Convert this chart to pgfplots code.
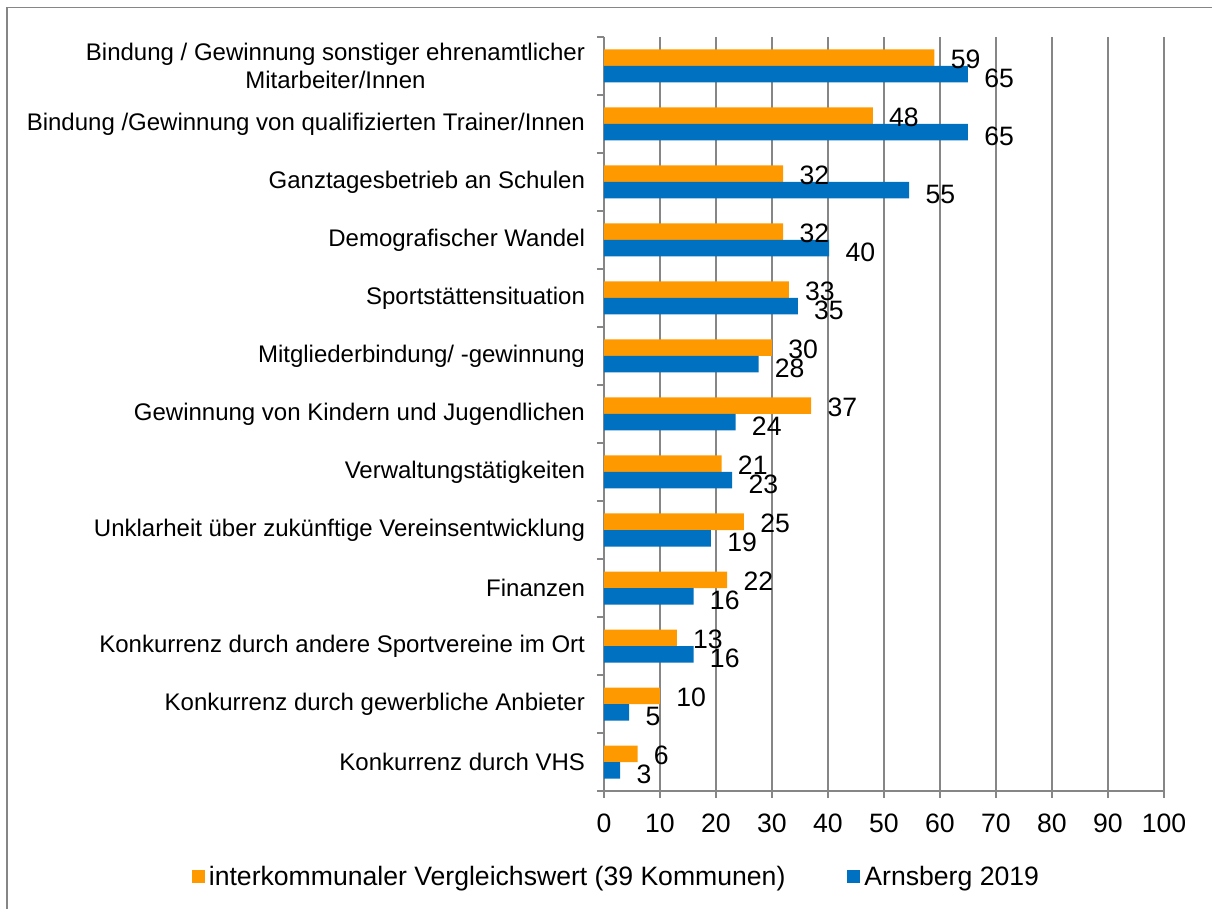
\documentclass[border=0pt]{standalone}
\usepackage{fontspec}
\setmainfont{Liberation Sans}
\usepackage{pgfplots}
\usepackage{pgfplotstable}
\pgfplotsset{compat=1.18}
\definecolor{barorange}{RGB}{255,153,0}
\definecolor{barblue}{RGB}{0,112,192}
\definecolor{gridgray}{RGB}{134,134,134}

\pgfplotstableread{
c v l
1 59 59
2 48 48
3 32 32
4 32 32
5 33 33
6 30 30
7 37 37
8 21 21
9 25 25
10 22 22
11 13 13
12 10 10
13 6 6
}\orange
\pgfplotstableread{
c v l
1 65 65
2 65 65
3 54.5 55
4 40.2 40
5 34.6 35
6 27.6 28
7 23.5 24
8 22.9 23
9 19.1 19
10 16 16
11 16 16
12 4.5 5
13 2.9 3
}\blue

\begin{document}
\begin{tikzpicture}
\path[use as bounding box] (0,0) rectangle (606pt,454.5pt);
\draw[gridgray, line width=0.7pt] (3.5pt,-1pt) -- (3.5pt,450.75pt) -- (607pt,450.75pt);
\begin{axis}[
  at={(302pt,59pt)}, anchor=south west,
  scale only axis, width=280pt, height=377pt,
  xbar=0pt, bar width=8.25pt,
  xmin=0, xmax=100, ymin=0.5, ymax=13.5,
  y dir=reverse,
  axis x line*=bottom, axis y line*=left,
  axis line style={gridgray, line width=0.7pt},
  xtick={0,10,...,100},
  ytick={1,...,13},
  minor ytick={0.5,1.5,...,13.5},
  yticklabels={{Bindung / Gewinnung sonstiger ehrenamtlicher\\Mitarbeiter/Innen},
    {Bindung /Gewinnung von qualifizierten Trainer/Innen},
    {Ganztagesbetrieb an Schulen},
    {Demografischer Wandel},
    {Sportstättensituation},
    {Mitgliederbindung/ -gewinnung},
    {Gewinnung von Kindern und Jugendlichen},
    {Verwaltungstätigkeiten},
    {Unklarheit über zukünftige Vereinsentwicklung},
    {Finanzen},
    {Konkurrenz durch andere Sportvereine im Ort},
    {Konkurrenz durch gewerbliche Anbieter},
    {Konkurrenz durch VHS}},
  yticklabel style={align=center, font=\fontsize{12}{14}\selectfont, xshift=-2.5pt},
  xticklabel style={font=\fontsize{13.3}{15}\selectfont, yshift=-4.5pt},
  /pgf/number format/assume math mode=true,
  tick align=outside,
  major tick length=3.5pt, minor tick length=3.5pt,
  major y tick style={draw=none},
  minor y tick style={gridgray, line width=0.7pt},
  major x tick style={gridgray, line width=0.7pt},
  xmajorgrids,
  major grid style={gridgray, line width=0.7pt},
  point meta=explicit symbolic,
  nodes near coords,
  nodes near coords style={anchor=west, inner sep=0pt, xshift=8pt, font=\fontsize{13.3}{15}\selectfont, text=black},
  legend image code/.code={\fill[#1] (0pt,-3.25pt) rectangle (6.5pt,3.25pt);},
  legend columns=2,
  legend style={draw=none, fill=none, at={(0.024,-0.114)}, anchor=center,
    font=\fontsize{13.3}{15}\selectfont, /tikz/every even column/.append style={column sep=29pt}},
]
\addplot[fill=barorange, draw=none, bar shift=4.125pt,
  every node near coord/.append style={yshift=-0.75pt}] table[x=v, y=c, meta=l] {\orange};
\addplot[fill=barblue, draw=none, bar shift=-4.125pt,
  every node near coord/.append style={yshift=-2pt}] table[x=v, y=c, meta=l] {\blue};
\legend{interkommunaler Vergleichswert (39 Kommunen), Arnsberg 2019}
\end{axis}
\end{tikzpicture}
\end{document}
